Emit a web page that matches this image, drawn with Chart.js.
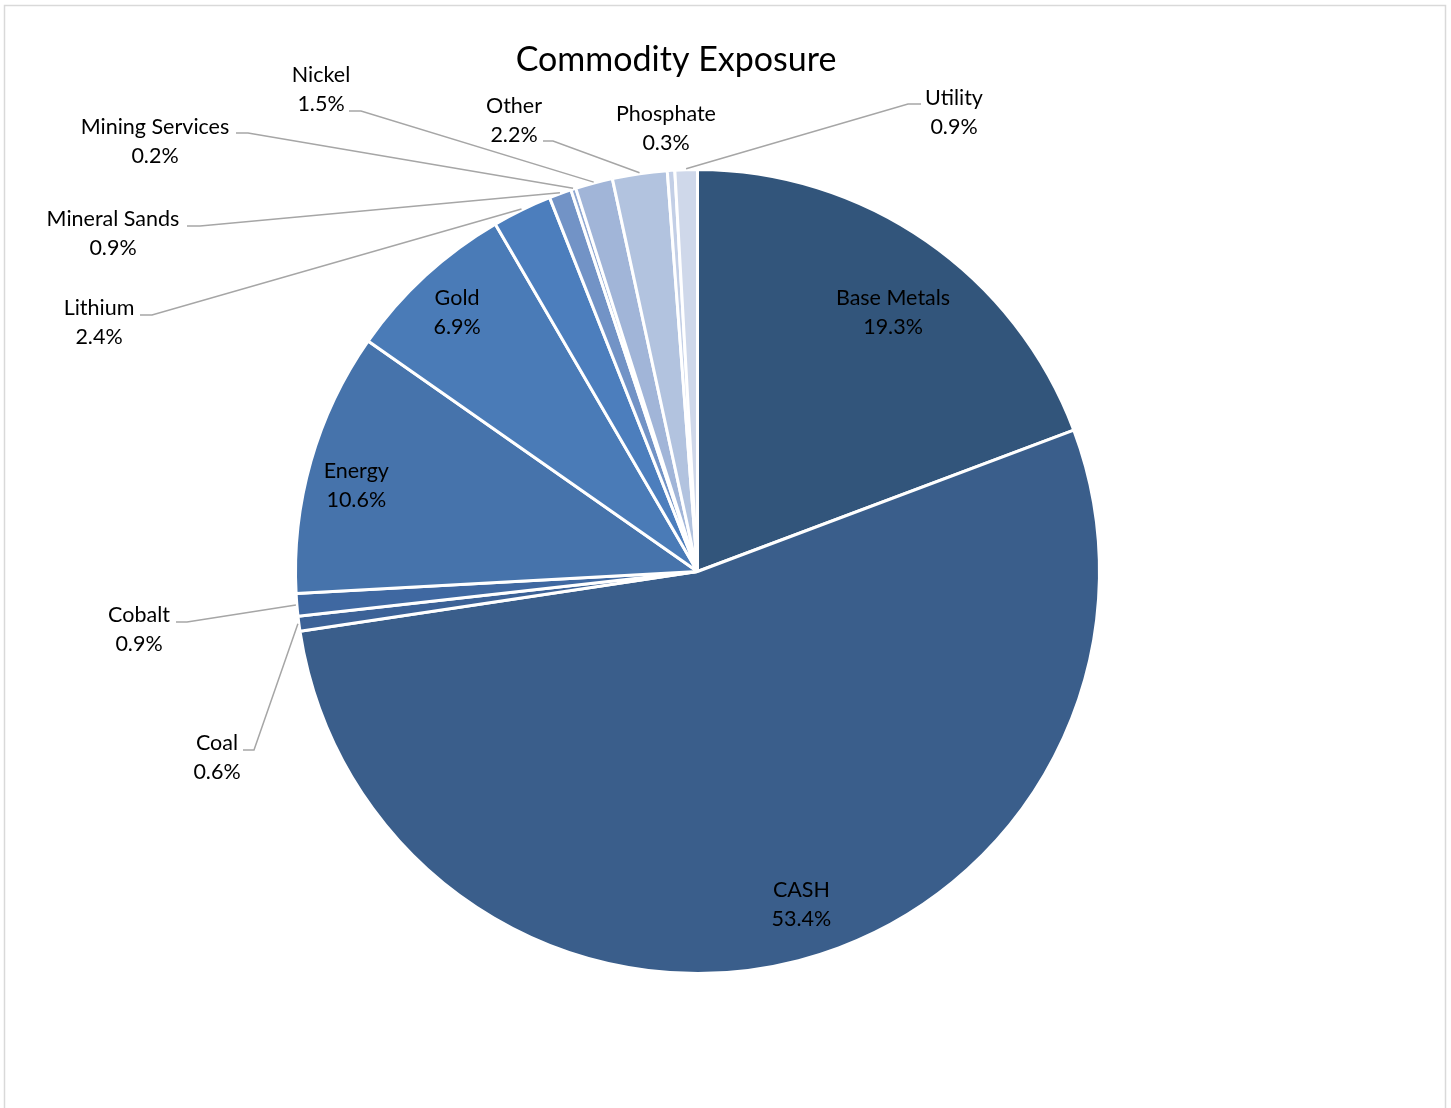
<!DOCTYPE html>
<html>
<head>
<meta charset="utf-8">
<title>Commodity Exposure</title>
<script src="https://cdn.jsdelivr.net/npm/chart.js@4.4.1/dist/chart.umd.min.js"></script>
<style>
  html, body { margin: 0; padding: 0; background: #fff; }
  #wrap { position: relative; width: 1451px; height: 1108px; }
</style>
</head>
<body>
<div id="wrap"><canvas id="pie" width="1451" height="1108"></canvas></div>
<script>
// slices, clockwise from 12 o'clock
const categories = ['Base Metals', 'CASH', 'Coal', 'Cobalt', 'Energy', 'Gold', 'Lithium',
  'Mineral Sands', 'Mining Services', 'Nickel', 'Other', 'Phosphate', 'Utility'];
const shares = [19.3, 53.4, 0.6, 0.9, 10.6, 6.9, 2.4, 0.9, 0.2, 1.5, 2.2, 0.3, 0.9];
const sliceColors = ['#32557b', '#3a5e8b', '#3c6297', '#3f68a1', '#4673ab', '#4a7bb7', '#4c7ebd',
  '#7293c6', '#90a8d2', '#a1b5d8', '#b2c3df', '#c3cfe6', '#cfd8ea'];

const labelFont = '21.5px Lato, "Open Sans", sans-serif';
const lineGap = 29;

// inside labels: turn (deg) from mid-angle and fraction of radius
const insidePlacement = {
  'Base Metals': { turn: 2.2, radius: 0.81 },
  'CASH': { turn: -2.8, radius: 0.866 },
  'Energy': { turn: -1.6, radius: 0.876 },
  'Gold': { turn: -0.2, radius: 0.88 }
};
// outside labels: text centre (first line) and where the leader bends
const outsidePlacement = {
  'Coal': { x: 217, y: 743, elbow: [254, 750], tail: 243 },
  'Cobalt': { x: 139, y: 615, elbow: [187, 622], tail: 176 },
  'Lithium': { x: 99, y: 308, elbow: [152, 315], tail: 140 },
  'Mineral Sands': { x: 113, y: 219, elbow: [200, 226], tail: 187 },
  'Mining Services': { x: 155, y: 127, elbow: [248, 133], tail: 236 },
  'Nickel': { x: 321, y: 75, elbow: [361, 111], tail: 349 },
  'Other': { x: 514, y: 106, elbow: [553, 141], tail: 543 },
  'Phosphate': { x: 666, y: 114 },
  'Utility': { x: 954, y: 98, elbow: [908, 104], tail: 921 }
};

const frameAndTitle = {
  id: 'frameAndTitle',
  beforeDraw(chart) {
    const { ctx } = chart;
    ctx.save();
    ctx.fillStyle = '#fff';
    ctx.fillRect(0, 0, chart.width, chart.height);
    ctx.strokeStyle = '#d9d9d9';
    ctx.lineWidth = 1.5;
    ctx.strokeRect(4.5, 5.5, 1441, 1110);
    ctx.restore();
  },
  afterDraw(chart) {
    const { ctx } = chart;
    ctx.save();
    ctx.font = '34px Lato, "Open Sans", sans-serif';
    ctx.fillStyle = '#000';
    ctx.textAlign = 'center';
    ctx.textBaseline = 'middle';
    ctx.fillText('Commodity Exposure', 676, 60);
    ctx.restore();
  }
};

const pieLabels = {
  id: 'pieLabels',
  afterDatasetsDraw(chart) {
    const { ctx } = chart;
    const arcs = chart.getDatasetMeta(0).data;
    ctx.save();
    ctx.font = labelFont;
    ctx.textAlign = 'center';
    ctx.textBaseline = 'middle';
    arcs.forEach((arc, i) => {
      const name = categories[i];
      const pct = shares[i].toFixed(1) + '%';
      const mid = (arc.startAngle + arc.endAngle) / 2;
      const inside = insidePlacement[name];
      if (inside) {
        const a = mid + inside.turn * Math.PI / 180;
        const r = arc.outerRadius * inside.radius;
        const cx = arc.x + r * Math.cos(a);
        const cy = arc.y + r * Math.sin(a);
        ctx.fillStyle = '#000';
        ctx.fillText(name, cx, cy - lineGap / 2 + 1);
        ctx.fillText(pct, cx, cy + lineGap / 2 + 1);
        return;
      }
      const out = outsidePlacement[name];
      if (out.elbow) {
        const r = arc.outerRadius + 1;
        ctx.beginPath();
        ctx.strokeStyle = '#a6a6a6';
        ctx.lineWidth = 1.5;
        ctx.moveTo(arc.x + r * Math.cos(mid), arc.y + r * Math.sin(mid));
        ctx.lineTo(out.elbow[0], out.elbow[1]);
        ctx.lineTo(out.tail, out.elbow[1]);
        ctx.stroke();
      }
      ctx.fillStyle = '#000';
      ctx.fillText(name, out.x, out.y);
      ctx.fillText(pct, out.x, out.y + lineGap);
    });
    ctx.restore();
  }
};

new Chart(document.getElementById('pie'), {
  type: 'pie',
  data: {
    labels: categories,
    datasets: [{
      data: shares,
      backgroundColor: sliceColors,
      borderColor: '#ffffff',
      borderWidth: 3,
      hoverOffset: 0,
      offset: 0
    }]
  },
  options: {
    responsive: false,
    devicePixelRatio: 1,
    animation: false,
    layout: { padding: { left: 294, right: 350, top: 168, bottom: 133 } },
    plugins: {
      legend: { display: false },
      tooltip: { enabled: false },
      title: { display: false }
    }
  },
  plugins: [frameAndTitle, pieLabels]
});
</script>
</body>
</html>
